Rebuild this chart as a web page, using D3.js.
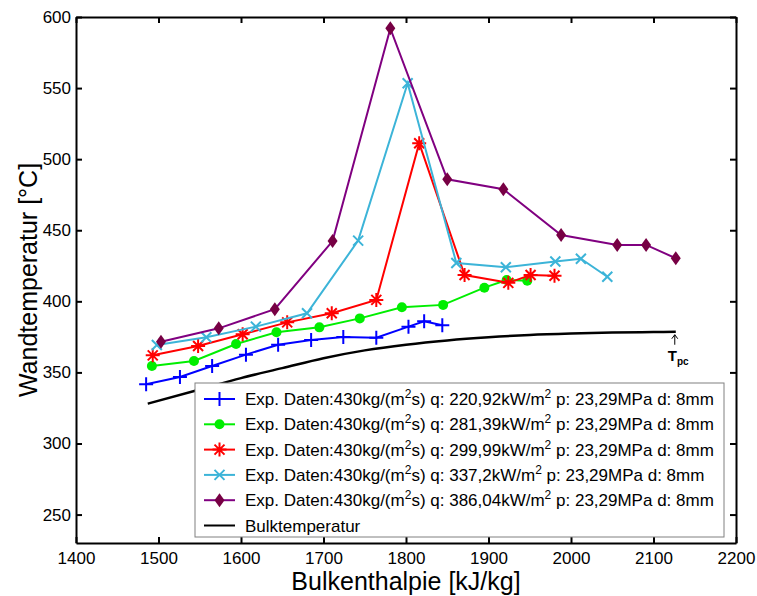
<!DOCTYPE html>
<meta charset="utf-8">
<style>
body{ margin: 0; background: white; }
svg{ font-family: "Liberation Sans", Arial, Helvetica, sans-serif; }
.axis path, .axis line{ stroke: black; stroke-width: 2; }
.axis text{ font-size: 17px; fill: black; }
</style>
<body>
<script src="https://cdn.jsdelivr.net/npm/d3@7"></script>
<script>

// enthalpy [kJ/kg] and wall temperature [°C]
var hBlue  = [1485, 1526, 1565, 1606, 1645, 1685, 1724, 1764, 1803, 1822, 1844],
    tBlue  = [341.6, 346.8, 354.5, 362.5, 369.5, 372.8, 374.9, 374.4, 382.2, 386, 383.1]
var hGreen = [1492, 1543, 1594, 1643, 1695, 1744, 1795, 1845, 1895, 1922, 1947],
    tGreen = [354.5, 358, 370, 378.2, 381.7, 388, 395.8, 397.5, 409.6, 415, 414.5]
var hRed   = [1493, 1548, 1602, 1656, 1710, 1764, 1816, 1871, 1924, 1951, 1980],
    tRed   = [362, 368.6, 376.8, 385.2, 391.6, 401, 511.2, 418.5, 413, 418.5, 418]
var hCyan  = [1498, 1558, 1618, 1680, 1742, 1802, 1861, 1921, 1981, 2012, 2044],
    tCyan  = [369.3, 374.7, 382.2, 391.6, 442.7, 553.4, 427, 424, 428, 430, 417.3]
var hPurp  = [1503, 1573, 1641, 1711, 1781, 1850, 1918, 1988, 2056, 2091, 2127],
    tPurp  = [371.6, 381, 394.5, 442.4, 592, 485.8, 478.8, 446.7, 439.7, 439.7, 430.3]
var hBulk  = [1487, 1550, 1600, 1650, 1700, 1750, 1800, 1850, 1900, 1950, 2000, 2050, 2100, 2127],
    tBulk  = [328, 338, 346, 353, 360, 365.5, 369.5, 372.5, 374.7, 376.3, 377.3, 378, 378.4, 378.6]

var xTicks = [1400, 1500, 1600, 1700, 1800, 1900, 2000, 2100, 2200],
    yTicks = [250, 300, 350, 400, 450, 500, 550, 600]

var qLabels = ['220,92', '281,39', '299,99', '337,2', '386,04']

var series = [
  {h: hBlue,  t: tBlue,  color: '#0000ff', mark: 'plus'},
  {h: hGreen, t: tGreen, color: '#00ee00', mark: 'circle'},
  {h: hRed,   t: tRed,   color: '#ff0000', mark: 'star'},
  {h: hCyan,  t: tCyan,  color: '#3cb4d8', mark: 'cross'},
  {h: hPurp,  t: tPurp,  color: '#800080', mark: 'diamond', fill: '#770044'}
]

var width = 757, height = 596,
    m = {left: 76, right: 21, top: 17, bottom: 53}

var x = d3.scaleLinear().domain([1400, 2200]).range([m.left, width - m.right])
var y = d3.scaleLinear().domain([230, 600]).range([height - m.bottom, m.top])

var svg = d3.select('body').append('svg')
    .attr('width', width).attr('height', height)

function marker(g, type, c, fill){
  if (type == 'circle')
    g.append('circle').attr('r', 5).attr('fill', c)
  else if (type == 'diamond')
    g.append('path').attr('d', 'M0,-7L5,0L0,7L-5,0Z').attr('fill', fill)
  else {
    var d = {plus: 'M-7,0H7M0,-7V7',
             cross: 'M-5,-5L5,5M-5,5L5,-5',
             star: 'M-7,0H7M0,-7V7M-5,-5L5,5M-5,5L5,-5'}[type]
    g.append('path').attr('d', d).attr('stroke', c).attr('stroke-width', 2).attr('fill', 'none')
  }
}

var line = d3.line().x(function(d){ return x(d[0]) }).y(function(d){ return y(d[1]) })

// bulk temperature
svg.append('path')
    .datum(d3.zip(hBulk, tBulk))
    .attr('d', line.curve(d3.curveMonotoneX))
    .attr('fill', 'none').attr('stroke', 'black').attr('stroke-width', 2.5)
line.curve(d3.curveLinear)

series.forEach(function(s){
  var pts = d3.zip(s.h, s.t)
  svg.append('path').datum(pts).attr('d', line)
      .attr('fill', 'none').attr('stroke', s.color).attr('stroke-width', 2)
  svg.append('g').selectAll('g').data(pts).join('g')
      .attr('transform', function(d){ return 'translate(' + x(d[0]) + ',' + y(d[1]) + ')' })
      .each(function(){ marker(d3.select(this), s.mark, s.color, s.fill) })
})

// T_pc annotation at end of bulk curve
var hx = x(hBulk[hBulk.length - 1]) - 1, hy = y(tBulk[tBulk.length - 1])
svg.append('path')
    .attr('d', 'M' + hx + ',' + (hy + 13) + 'V' + (hy + 3) + 'M' + (hx - 3) + ',' + (hy + 7) + 'L' + hx + ',' + (hy + 3) + 'L' + (hx + 3) + ',' + (hy + 7))
    .attr('stroke', 'black').attr('stroke-width', 1).attr('fill', 'none')
var tpc = svg.append('text').attr('x', hx - 7).attr('y', hy + 29)
    .style('font-weight', 'bold').style('font-size', '15px')
tpc.append('tspan').text('T')
tpc.append('tspan').attr('dy', 4).style('font-size', '10px').text('pc')

// axes, ticks inside on all four sides
svg.append('g').attr('class', 'axis')
    .attr('transform', 'translate(0,' + (height - m.bottom) + ')')
    .call(d3.axisBottom(x).tickValues(xTicks).tickFormat(d3.format('d'))
      .tickSize(-6).tickPadding(9).tickSizeOuter(0))
svg.append('g').attr('class', 'axis')
    .attr('transform', 'translate(' + m.left + ',0)')
    .call(d3.axisLeft(y).tickValues(yTicks).tickSize(-6).tickPadding(5).tickSizeOuter(0))
svg.append('g').attr('class', 'axis')
    .attr('transform', 'translate(0,' + m.top + ')')
    .call(d3.axisTop(x).tickValues(xTicks).tickSize(-6).tickFormat('').tickSizeOuter(0))
svg.append('g').attr('class', 'axis')
    .attr('transform', 'translate(' + (width - m.right) + ',0)')
    .call(d3.axisRight(y).tickValues(yTicks).tickSize(-6).tickFormat('').tickSizeOuter(0))

svg.append('text')
    .attr('x', (x.range()[0] + x.range()[1]) / 2).attr('y', 590)
    .attr('text-anchor', 'middle').style('font-size', '25px')
    .text('Bulkenthalpie [kJ/kg]')
svg.append('text')
    .attr('transform', 'translate(37,' + (y.range()[0] + y.range()[1]) / 2 + ') rotate(-90)')
    .attr('text-anchor', 'middle').style('font-size', '25px')
    .text('Wandtemperatur [°C]')

// legend
var lg = svg.append('g').attr('transform', 'translate(195,383)')
lg.append('rect').attr('width', 529).attr('height', 154)
    .attr('fill', 'white').attr('stroke', '#808080').attr('stroke-width', 1)

var rowH = 25.3
series.forEach(function(s, i){
  var row = lg.append('g').attr('transform', 'translate(0,' + (16 + i * rowH) + ')')
  row.append('line').attr('x1', 9).attr('x2', 40)
      .attr('stroke', s.color).attr('stroke-width', 2)
  marker(row.append('g').attr('transform', 'translate(24.5,0)'), s.mark, s.color, s.fill)
  var t = row.append('text').attr('x', 50).attr('y', 6).style('font-size', '17px')
  t.append('tspan').text('Exp. Daten:430kg/(m')
  t.append('tspan').attr('dy', -7).style('font-size', '12px').text('2')
  t.append('tspan').attr('dy', 7).text('s) q: ' + qLabels[i] + 'kW/m')
  t.append('tspan').attr('dy', -7).style('font-size', '12px').text('2')
  t.append('tspan').attr('dy', 7).text(' p: 23,29MPa d: 8mm')
})
var br = lg.append('g').attr('transform', 'translate(0,' + (16 + 5 * rowH) + ')')
br.append('line').attr('x1', 9).attr('x2', 40).attr('stroke', 'black').attr('stroke-width', 2)
br.append('text').attr('x', 50).attr('y', 6).style('font-size', '17px').text('Bulktemperatur')

</script>
